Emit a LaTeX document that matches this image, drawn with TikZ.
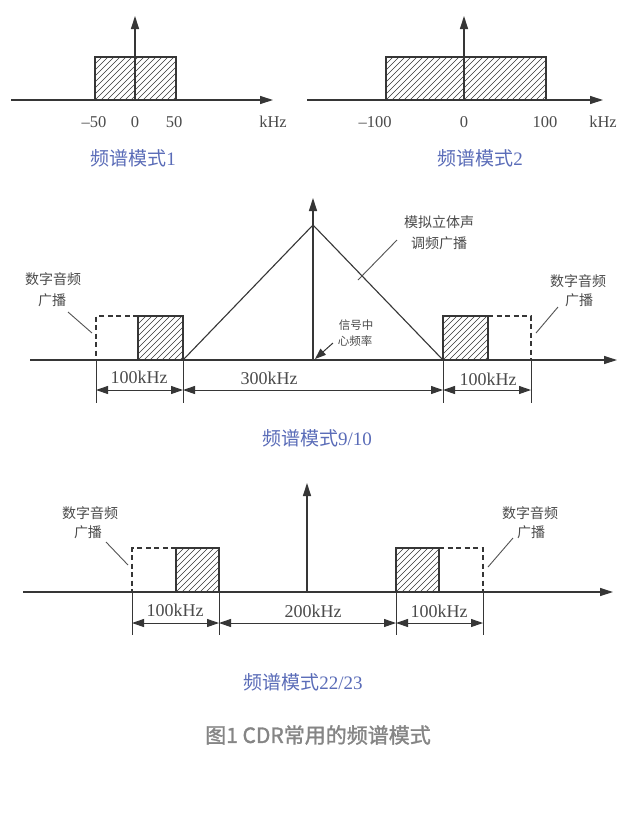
\documentclass[tikz,border=0pt]{standalone}
\usepackage{fontspec}
\setmainfont{Liberation Serif}
\newfontfamily\cjk{Noto Sans CJK SC}
\newfontfamily\cjkcap[FakeBold=1.4]{Noto Sans CJK SC}
\usetikzlibrary{arrows.meta}
\definecolor{ink}{HTML}{363636}
\definecolor{lbl}{HTML}{4A4A4A}
\definecolor{capblue}{HTML}{5A6CB8}
\definecolor{capgray}{HTML}{858585}
\tikzset{
  axisarrow/.style={draw=ink, line width=1.2pt, -{Triangle[length=13pt,width=8pt]}},
  dimarrow/.style={draw=ink, line width=1pt, {Triangle[length=12pt,width=8pt]}-{Triangle[length=12pt,width=8pt]}},
  extline/.style={draw=ink, line width=1pt},
  outline/.style={draw=ink, line width=1.1pt},
  dashbox/.style={draw=ink, line width=1.1pt, dash pattern=on 5pt off 3.5pt},
  hatchline/.style={draw=ink, line width=0.65pt},
  leader/.style={draw=ink!85, line width=0.9pt},
  ptrarrow/.style={draw=ink, line width=1pt, -{Triangle[length=11pt,width=8pt]}},
  numlbl/.style={text=lbl, font=\fontsize{16.5}{16.5}\selectfont, inner sep=0pt},
  dimlbl/.style={text=lbl, font=\fontsize{18}{18}\selectfont, inner sep=0pt},
  cnlbl/.style={text=lbl, font=\cjk\fontsize{14}{14}\selectfont, inner sep=0pt},
  smalllbl/.style={text=lbl, font=\cjk\fontsize{11.5}{11.5}\selectfont, inner sep=0pt},
  captionlbl/.style={text=capblue, font=\fontsize{19}{19}\selectfont, inner sep=0pt},
  figlbl/.style={text=capgray, font=\cjkcap\fontsize{21}{21}\selectfont, inner sep=0pt},
}
\newcommand\hatchbox[4]{%
  \begin{scope}
    \clip (#1,#2) rectangle (#3,#4);
    \pgfmathsetmacro\hh{#4-#2}
    \foreach \xx in {-60,-54,...,200} {\draw[hatchline] ({#1+\xx},#4) -- ++(\hh,-\hh);}
  \end{scope}
  \draw[outline] (#1,#2) rectangle (#3,#4);
}
\begin{document}
\begin{tikzpicture}[x=1pt,y=-1pt]
\useasboundingbox[fill=white] (0,0) rectangle (636,815);

% ---------- Panel 1 ----------
\hatchbox{95}{57}{176}{100}
\coordinate (a1s) at (11,100); \coordinate (a1e) at (273,100);
\coordinate (v1s) at (135,100); \coordinate (v1e) at (135,16);
\draw[axisarrow] (a1s) -- (a1e);
\draw[axisarrow] (v1s) -- (v1e);
\node[numlbl] (l1a) at (94,122) {–50};
\node[numlbl] (l1b) at (135,122) {0};
\node[numlbl] (l1c) at (174,122) {50};
\node[numlbl] (l1d) at (273,122) {kHz};
\node[captionlbl] (c1) at (133,158) {{\cjk 频谱模式}1};

% ---------- Panel 2 ----------
\hatchbox{386}{57}{546}{100}
\coordinate (a2s) at (307,100); \coordinate (a2e) at (603,100);
\coordinate (v2s) at (464,100); \coordinate (v2e) at (464,16);
\draw[axisarrow] (a2s) -- (a2e);
\draw[axisarrow] (v2s) -- (v2e);
\node[numlbl] (l2a) at (375,122) {–100};
\node[numlbl] (l2b) at (464,122) {0};
\node[numlbl] (l2c) at (545,122) {100};
\node[numlbl] (l2d) at (603,122) {kHz};
\node[captionlbl] (c2) at (480,158) {{\cjk 频谱模式}2};

% ---------- Panel 3 ----------
\hatchbox{138}{316}{183}{360}
\hatchbox{443}{316}{488}{360}
\draw[dashbox] (138,316) -- (96,316) -- (96,360);
\draw[dashbox] (488,316) -- (531,316) -- (531,360);
\coordinate (a3s) at (30,360); \coordinate (a3e) at (617,360);
\coordinate (v3s) at (313,360); \coordinate (v3e) at (313,198);
\coordinate (t3l) at (183,360); \coordinate (t3a) at (313,225); \coordinate (t3r) at (443,360);
\draw[axisarrow] (a3s) -- (a3e);
\draw[axisarrow] (v3s) -- (v3e);
\draw[outline] (t3l) -- (t3a) -- (t3r);
\foreach \n/\x in {p/96,q/183,r/443,s/531} {
  \coordinate (e3\n t) at (\x,360); \coordinate (e3\n b) at (\x,403); \coordinate (d3\n) at (\x,390);
  \draw[extline] (e3\n t) -- (e3\n b);
}
\draw[dimarrow] (d3p) -- (d3q);
\draw[dimarrow] (d3q) -- (d3r);
\draw[dimarrow] (d3r) -- (d3s);
\node[dimlbl] (m3a) at (139,377) {100kHz};
\node[dimlbl] (m3b) at (269,378) {300kHz};
\node[dimlbl] (m3c) at (488,379) {100kHz};
\node[cnlbl] (n3a) at (439,222) {模拟立体声};
\node[cnlbl] (n3b) at (439,243) {调频广播};
\coordinate (k3as) at (397,240); \coordinate (k3ae) at (358,280);
\draw[leader] (k3as) -- (k3ae);
\node[cnlbl] (n3c) at (578,281) {数字音频};
\node[cnlbl] (n3d) at (579,300) {广播};
\coordinate (k3bs) at (558,307); \coordinate (k3be) at (536,333);
\draw[leader] (k3bs) -- (k3be);
\node[cnlbl] (n3e) at (53,279) {数字音频};
\node[cnlbl] (n3f) at (52,300) {广播};
\coordinate (k3cs) at (68,312); \coordinate (k3ce) at (92,333);
\draw[leader] (k3cs) -- (k3ce);
\node[smalllbl] (n3g) at (356,325) {信号中};
\node[smalllbl] (n3h) at (355,341) {心频率};
\coordinate (p3s) at (333,343); \coordinate (p3e) at (315,359);
\draw[ptrarrow] (p3s) -- (p3e);
\node[captionlbl] (c3) at (317,438) {{\cjk 频谱模式}9/10};

% ---------- Panel 4 ----------
\hatchbox{176}{548}{219}{592}
\hatchbox{396}{548}{439}{592}
\draw[dashbox] (176,548) -- (132,548) -- (132,592);
\draw[dashbox] (439,548) -- (483,548) -- (483,592);
\coordinate (a4s) at (23,592); \coordinate (a4e) at (613,592);
\coordinate (v4s) at (307,592); \coordinate (v4e) at (307,483);
\draw[axisarrow] (a4s) -- (a4e);
\draw[axisarrow] (v4s) -- (v4e);
\foreach \n/\x in {p/132,q/219,r/396,s/483} {
  \coordinate (e4\n t) at (\x,592); \coordinate (e4\n b) at (\x,635); \coordinate (d4\n) at (\x,623);
  \draw[extline] (e4\n t) -- (e4\n b);
}
\draw[dimarrow] (d4p) -- (d4q);
\draw[dimarrow] (d4q) -- (d4r);
\draw[dimarrow] (d4r) -- (d4s);
\node[dimlbl] (m4a) at (175,610) {100kHz};
\node[dimlbl] (m4b) at (313,611) {200kHz};
\node[dimlbl] (m4c) at (439,611) {100kHz};
\node[cnlbl] (n4a) at (90,513) {数字音频};
\node[cnlbl] (n4b) at (88,532) {广播};
\coordinate (k4as) at (106,542); \coordinate (k4ae) at (128,565);
\draw[leader] (k4as) -- (k4ae);
\node[cnlbl] (n4c) at (530,513) {数字音频};
\node[cnlbl] (n4d) at (531,532) {广播};
\coordinate (k4bs) at (513,538); \coordinate (k4be) at (488,567);
\draw[leader] (k4bs) -- (k4be);
\node[captionlbl] (c4) at (303,682) {{\cjk 频谱模式}22/23};

% ---------- Figure caption ----------
\node[figlbl] (fig) at (318,735) {图1 CDR常用的频谱模式};
\end{tikzpicture}
\end{document}
